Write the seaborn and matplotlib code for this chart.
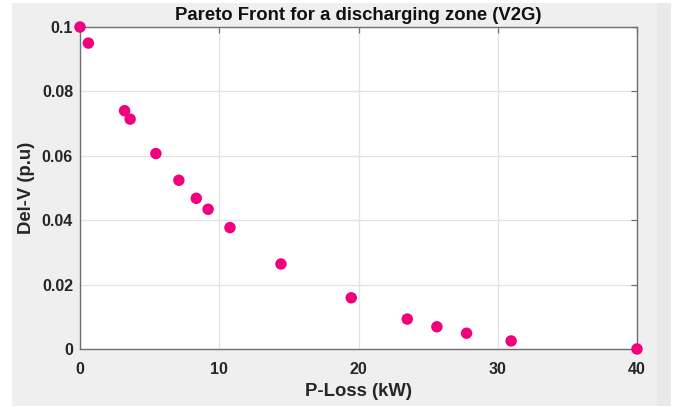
import numpy as np
import pandas as pd
import matplotlib
matplotlib.use("Agg")
import matplotlib.pyplot as plt
import seaborn as sns
from matplotlib.patches import Rectangle

# Pareto front points
p_loss = [0.0, 0.6, 3.2, 3.6, 5.45, 7.1, 8.35, 9.2, 10.77, 14.43, 19.48, 23.5, 25.63, 27.76, 30.96, 40.0]
del_v = [0.1, 0.095, 0.074, 0.0714, 0.0607, 0.0524, 0.0468, 0.0434, 0.0377, 0.0264, 0.0159, 0.0093, 0.0069, 0.0049, 0.0025, 0.0]

x_ticks = [0, 10, 20, 30, 40]
y_ticks = [0, 0.02, 0.04, 0.06, 0.08, 0.1]
y_tick_labels = ['0', '0.02', '0.04', '0.06', '0.08', '0.1']

df = pd.DataFrame({'P-Loss': p_loss, 'Del-V': del_v})

sns.set_style("white")
plt.rcParams['font.family'] = ['Liberation Sans', 'DejaVu Sans']

fig = plt.figure(figsize=(6.84, 4.07), dpi=100, facecolor='white')
# MATLAB-like grey figure panel
fig.patches.append(Rectangle((12 / 684, 1 / 407), 659 / 684, 403 / 407,
                             transform=fig.transFigure, facecolor='#efefef',
                             edgecolor='none', zorder=-10))
fig.patches.append(Rectangle((657 / 684, 1 / 407), 14 / 684, 403 / 407,
                             transform=fig.transFigure, facecolor='#e9e9e9',
                             edgecolor='none', zorder=-9))

ax = fig.add_axes([80 / 684, 1 - 349 / 407, 557 / 684, 322 / 407])
ax.set_facecolor('white')

sns.scatterplot(data=df, x='P-Loss', y='Del-V', ax=ax, color='#f2007e',
                s=68, edgecolor='none', clip_on=False, zorder=5, legend=False)

ax.set_xlim(0, 40)
ax.set_ylim(0, 0.1)
ax.set_xticks(x_ticks)
ax.set_yticks(y_ticks)
ax.set_yticklabels(y_tick_labels)
ax.grid(True, color='#e2e2e2', linewidth=0.9)
ax.set_axisbelow(True)

for sp in ax.spines.values():
    sp.set_color('#707070')
    sp.set_linewidth(1.0)

ax.tick_params(direction='in', top=True, right=True, length=4, width=0.9,
               color='#707070', labelsize=11.5, labelcolor='#262626')
ax.tick_params(axis='x', pad=9)
ax.tick_params(axis='y', pad=5)
for lbl in ax.get_xticklabels() + ax.get_yticklabels():
    lbl.set_fontweight('bold')

ax.set_xlabel('P-Loss (kW)', fontsize=13.3, fontweight='bold', color='#262626', labelpad=5)
ax.set_ylabel('Del-V (p.u)', fontsize=13.3, fontweight='bold', color='#262626', labelpad=5)
ax.set_title('Pareto Front for a discharging zone (V2G)', fontsize=13.3,
             fontweight='bold', color='#111111', pad=5)

fig.savefig('out.png', dpi=100, facecolor=fig.get_facecolor())
